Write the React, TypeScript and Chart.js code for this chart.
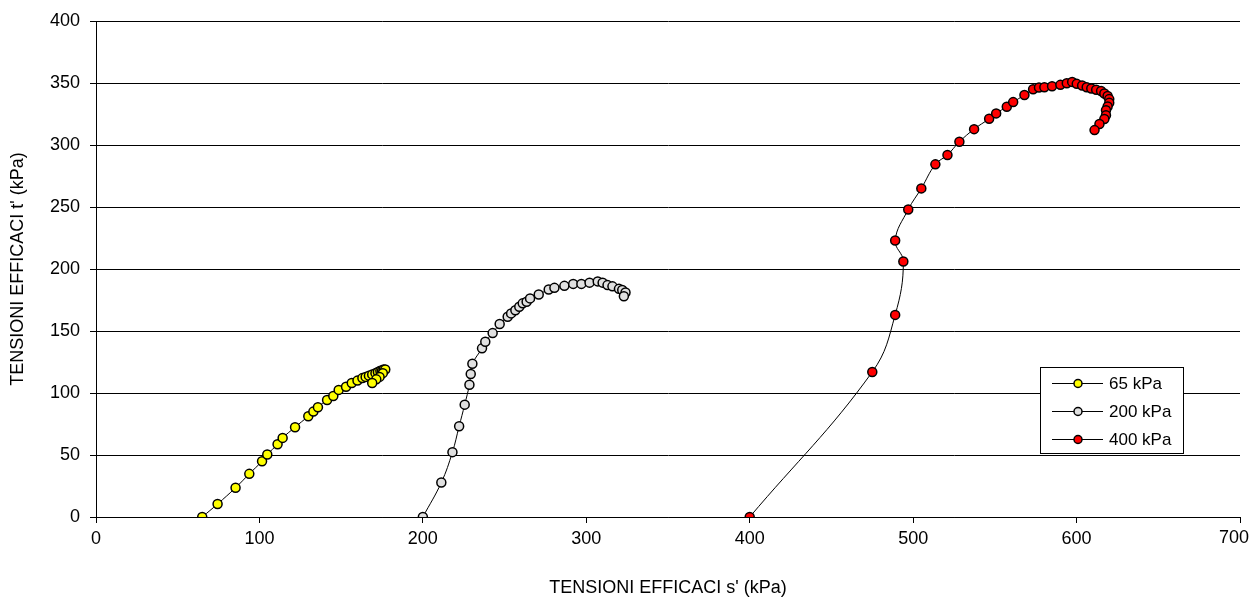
import React, { useEffect, useRef } from "react";
import { Chart, registerables } from "chart.js";

Chart.register(...registerables);

const xTitle = "TENSIONI EFFICACI s' (kPa)";
const yTitle = "TENSIONI EFFICACI t' (kPa)";
const seriesNames = ["65 kPa", "200 kPa", "400 kPa"];
const seriesColors = ["#FFFF00", "#E0E0E0", "#FF0000"];

const s65 = [65, 74.4, 85.4, 93.8, 101.6, 104.8, 111.1, 114.2, 121.8, 129.9, 133, 135.8, 141.4, 145.2, 148.5, 153, 156.5, 160, 163, 165, 167, 169, 171, 172.5, 174, 175, 176, 177, 175.5, 173.5, 171.5, 169];
const t65 = [0, 10.5, 23.6, 34.8, 45, 50.4, 58.7, 63.8, 72.4, 81.3, 85, 88.5, 94.4, 97.6, 102.5, 105, 108, 110, 112, 113, 114, 115, 116, 117, 118, 118, 119, 119, 116, 113, 111, 108];

const s200 = [200, 211.3, 218.1, 222.2, 225.6, 228.5, 229.3, 230.3, 236.2, 238.2, 242.7, 247, 251.9, 254, 256.6, 259, 261.1, 263.5, 265.6, 270.9, 277, 280.5, 286.6, 292, 297, 302, 307, 310, 313, 316, 320, 322, 324, 323];
const t200 = [0, 27.8, 52.3, 73.2, 90.6, 106.7, 115.3, 123.6, 136, 141.3, 148.3, 155.6, 161.5, 164.2, 166.8, 169.6, 172.3, 173.6, 176.3, 179.5, 183.5, 184.8, 186.4, 188, 188, 189, 190, 189, 187, 186, 184, 183, 181, 178];

const s400 = [400, 475, 489, 494, 489, 497, 505, 513.6, 521, 528.3, 537.3, 546.5, 550.8, 557.3, 561.2, 568.1, 573.4, 577, 580.3, 585, 590.1, 594, 597.3, 600.1, 603.4, 606.2, 609, 612, 615, 617, 619, 620, 620, 619, 618, 618, 617, 614, 611];
const t400 = [0, 117, 163, 206, 223, 248, 265, 284.4, 292, 302.6, 312.8, 321.1, 325.5, 330.9, 334.6, 340.3, 344.9, 346.3, 346.6, 347.4, 348.5, 349.8, 350.9, 349.3, 348, 346.6, 345.5, 344.5, 343.5, 341.5, 339.5, 337, 334, 331, 328, 324, 321, 317, 312];

const xTickValues = [0, 100, 200, 300, 400, 500, 600, 700];
const yTickValues = [0, 50, 100, 150, 200, 250, 300, 350, 400];

const FONT = "'Liberation Sans', Arial, sans-serif";

function toPoints(xs: number[], ys: number[]) {
  return xs.map((x, i) => ({ x, y: ys[i] }));
}

const lastXLabel = {
  id: "lastXLabel",
  afterDraw(chart: any) {
    const ctx = chart.ctx;
    const sc = chart.scales.x;
    const v = xTickValues[xTickValues.length - 1];
    const text = String(v);
    ctx.save();
    ctx.font = `18px ${FONT}`;
    const w = ctx.measureText(text).width;
    let cx = sc.getPixelForValue(v);
    cx = Math.min(cx, chart.width - w / 2 - 1);
    ctx.fillStyle = "#000";
    ctx.textAlign = "center";
    ctx.textBaseline = "middle";
    ctx.fillText(text, cx, chart.chartArea.bottom + 21.5);
    ctx.restore();
  },
};

const legendPlugin = {
  id: "boxLegend",
  afterDraw(chart: any) {
    const ctx = chart.ctx;
    const bx = 1040, by = 367, bw = 143, bh = 86;
    ctx.save();
    ctx.fillStyle = "#FFFFFF";
    ctx.fillRect(bx, by, bw, bh);
    ctx.strokeStyle = "#000";
    ctx.lineWidth = 1;
    ctx.strokeRect(bx + 0.5, by + 0.5, bw, bh);
    const rows = [383, 411, 439];
    seriesNames.forEach((name, i) => {
      const y = rows[i];
      ctx.beginPath();
      ctx.strokeStyle = "#000";
      ctx.lineWidth = 1;
      ctx.moveTo(1052, y + 0.5);
      ctx.lineTo(1103, y + 0.5);
      ctx.stroke();
      ctx.beginPath();
      ctx.arc(1078, y + 0.5, 4, 0, Math.PI * 2);
      ctx.fillStyle = seriesColors[i];
      ctx.fill();
      ctx.lineWidth = 1.5;
      ctx.stroke();
      ctx.fillStyle = "#000";
      ctx.font = `17px ${FONT}`;
      ctx.textBaseline = "middle";
      ctx.textAlign = "left";
      ctx.fillText(name, 1109, y + 1);
    });
    ctx.restore();
  },
};

export default function App() {
  const ref = useRef<HTMLCanvasElement | null>(null);
  useEffect(() => {
    document.body.style.margin = "0";
    if (!ref.current) return;
    const mk = (i: number, xs: number[], ys: number[]) => ({
      label: seriesNames[i],
      data: toPoints(xs, ys),
      showLine: true,
      borderColor: "#000",
      borderWidth: 1,
      tension: 0.4,
      pointRadius: 4.5,
      pointBorderWidth: 1.5,
      pointBackgroundColor: seriesColors[i],
      pointBorderColor: "#000",
      backgroundColor: seriesColors[i],
    });
    const lastX = xTickValues[xTickValues.length - 1];
    const chart = new Chart(ref.current, {
      type: "scatter",
      data: {
        datasets: [mk(0, s65, t65), mk(1, s200, t200), mk(2, s400, t400)],
      },
      options: {
        responsive: false,
        animation: false,
        devicePixelRatio: 1,
        layout: { padding: { top: 21, right: 10, left: 0, bottom: 0 } },
        plugins: { legend: { display: false }, tooltip: { enabled: false } },
        scales: {
          x: {
            type: "linear",
            min: 0,
            max: 700,
            afterFit: (s: any) => { s.height = 80; s.paddingRight = 0; s.paddingLeft = 0; },
            afterBuildTicks: (s: any) => { s.ticks = xTickValues.map((v) => ({ value: v })); },
            ticks: {
              color: "#000",
              font: { family: FONT, size: 18 },
              padding: 5,
              maxRotation: 0,
              callback: (v: any) => (Number(v) === lastX ? "" : String(v)),
            },
            grid: { drawOnChartArea: false, drawTicks: true, tickLength: 6, color: "#000" },
            border: { display: true, color: "#000", width: 1 },
            title: { display: true, text: xTitle, color: "#000", font: { family: FONT, size: 18, lineHeight: 1 }, padding: { top: 0, bottom: 0 } },
          },
          y: {
            type: "linear",
            min: 0,
            max: 400,
            afterFit: (s: any) => { s.width = 96; s.paddingTop = 0; s.paddingBottom = 0; },
            afterBuildTicks: (s: any) => { s.ticks = yTickValues.map((v) => ({ value: v })); },
            ticks: { color: "#000", font: { family: FONT, size: 18 }, padding: 10 },
            grid: { drawOnChartArea: true, drawTicks: true, tickLength: 6, color: "#000", lineWidth: 1 },
            border: { display: true, color: "#000", width: 1 },
            title: { display: true, text: yTitle, color: "#000", font: { family: FONT, size: 18, lineHeight: 1 }, padding: { top: 9, bottom: 0 } },
          },
        },
      } as any,
      plugins: [legendPlugin, lastXLabel],
    });
    return () => chart.destroy();
  }, []);
  return (
    <div style={{ position: "absolute", left: 0, top: 0, width: 1250, height: 597, background: "#fff" }}>
      <canvas ref={ref} width={1250} height={597} />
    </div>
  );
}
